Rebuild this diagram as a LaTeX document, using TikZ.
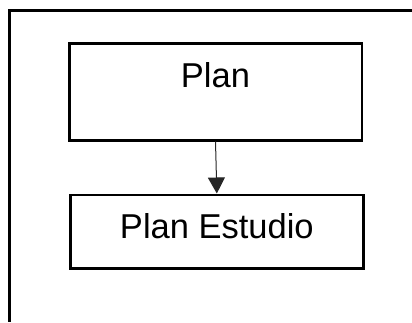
\documentclass[tikz,border=0pt]{standalone}
\usepackage{fontspec}
\setmainfont{Liberation Sans}
\usetikzlibrary{arrows.meta}
\begin{document}
\begin{tikzpicture}[x=1pt,y=-1pt,
  box/.style={draw=black, line width=2.6pt, rectangle, inner xsep=0pt, inner ysep=0pt,
    font=\fontsize{34.5}{41}\selectfont},
  link/.style={draw=black!85, line width=1pt, -{Triangle[length=16pt,width=17pt]}}]
  \useasboundingbox (0,0) rectangle (412,322);
  % open frame: top and left edges
  \coordinate (frameTR) at (412,10.7);
  \coordinate (frameTL) at (9,10.7);
  \coordinate (frameBL) at (9,322);
  \draw[line width=3pt] (frameTR) -- (frameTL) -- (frameBL);
  % boxes
  \node[box, minimum width=292.6pt, minimum height=97pt,
        text height=44pt, text depth=53pt] (plan) at (215.5,91.7) {Plan};
  \node[box, minimum width=292.7pt, minimum height=73.7pt,
        text height=44pt, text depth=29.7pt] (estudio) at (216.85,231.65) {Plan Estudio};
  \draw[link] (plan.south) -- (estudio.north);
\end{tikzpicture}
\end{document}
